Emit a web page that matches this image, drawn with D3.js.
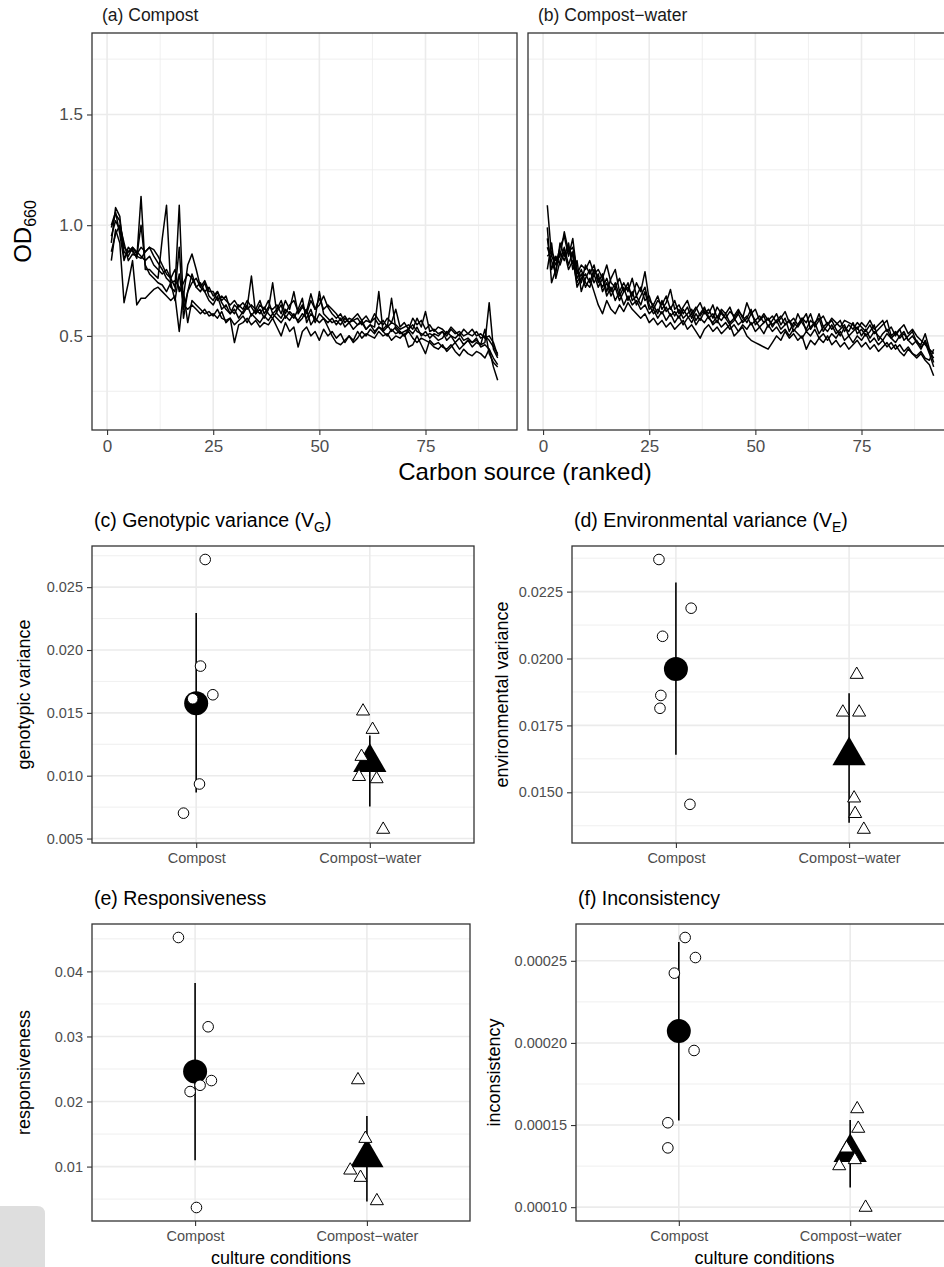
<!DOCTYPE html>
<html>
<head>
<meta charset="utf-8">
<script src="https://cdn.jsdelivr.net/npm/d3@7"></script>
<style>
  body { margin: 0; background: #fff; }
  text { font-family: "Liberation Sans", Arial, Helvetica, sans-serif; }
</style>
</head>
<body>
<div id="chart"></div>
<script>
// ---- data ----
const conditions = ["Compost", "Compost-water"];
const conditionLabels = ["Compost", "Compost\u2212water"];

// OD660 per carbon source (ranked 1..92), one array per genotype
const compostOD = [
  [0.99,1.05,1.02,0.90,0.88,0.89,0.85,1.13,0.80,0.80,0.78,0.76,0.94,1.09,0.72,0.70,0.90,0.58,0.70,0.78,0.72,0.70,0.74,
   0.68,0.66,0.70,0.65,0.62,0.60,0.64,0.62,0.60,0.63,0.77,0.60,0.62,0.58,0.62,0.74,0.60,0.58,0.62,0.60,0.58,0.62,0.67,
   0.56,0.60,0.58,0.70,0.60,0.58,0.56,0.57,0.55,0.58,0.56,0.57,0.55,0.56,0.53,0.55,0.54,0.70,0.52,0.54,0.67,0.53,0.51,
   0.52,0.53,0.55,0.52,0.51,0.50,0.51,0.50,0.48,0.49,0.52,0.50,0.49,0.51,0.48,0.49,0.47,0.48,0.46,0.47,0.65,0.44,0.40],
  [0.92,1.08,1.04,0.85,0.88,0.90,0.87,0.90,0.88,0.90,0.89,0.86,0.82,0.78,0.76,0.72,1.09,0.62,0.70,0.74,0.76,0.72,0.75,
   0.70,0.70,0.66,0.68,0.66,0.64,0.66,0.63,0.65,0.62,0.64,0.62,0.66,0.60,0.63,0.62,0.64,0.60,0.66,0.62,0.70,0.60,0.63,
   0.61,0.69,0.62,0.64,0.68,0.63,0.60,0.58,0.60,0.56,0.58,0.57,0.58,0.55,0.57,0.56,0.58,0.55,0.57,0.54,0.56,0.55,0.53,
   0.54,0.55,0.53,0.58,0.54,0.61,0.52,0.53,0.51,0.52,0.50,0.53,0.51,0.52,0.50,0.51,0.53,0.50,0.51,0.49,0.50,0.47,0.41],
  [0.84,0.98,0.92,0.65,0.74,0.84,0.64,0.67,0.67,0.69,0.71,0.72,0.70,0.68,0.66,0.68,0.52,0.70,0.56,0.66,0.64,0.62,0.60,
   0.61,0.59,0.62,0.58,0.57,0.58,0.47,0.55,0.56,0.58,0.55,0.57,0.54,0.56,0.55,0.58,0.54,0.50,0.56,0.52,0.54,0.45,0.52,
   0.54,0.50,0.52,0.48,0.53,0.50,0.52,0.49,0.51,0.47,0.50,0.48,0.52,0.49,0.51,0.50,0.49,0.52,0.50,0.51,0.48,0.50,0.49,
   0.51,0.45,0.46,0.50,0.46,0.42,0.48,0.46,0.47,0.45,0.44,0.46,0.43,0.41,0.44,0.42,0.41,0.43,0.42,0.40,0.44,0.36,0.30],
  [0.88,0.96,1.00,0.92,0.84,0.87,0.86,0.85,0.88,0.90,0.86,0.83,0.80,0.76,0.74,0.75,0.72,0.68,0.82,0.87,0.80,0.72,0.70,
   0.66,0.64,0.68,0.62,0.64,0.60,0.62,0.58,0.61,0.64,0.59,0.62,0.60,0.63,0.60,0.58,0.61,0.64,0.58,0.61,0.59,0.57,0.60,
   0.58,0.62,0.56,0.60,0.58,0.56,0.58,0.55,0.58,0.54,0.56,0.53,0.55,0.57,0.53,0.55,0.52,0.54,0.53,0.55,0.52,0.54,0.52,
   0.50,0.53,0.51,0.54,0.50,0.52,0.49,0.51,0.50,0.52,0.48,0.50,0.47,0.49,0.46,0.48,0.47,0.49,0.45,0.46,0.44,0.40,0.37],
  [1.00,1.06,0.96,0.84,0.90,0.88,0.86,1.00,0.82,0.78,0.76,0.74,0.73,0.70,0.74,0.66,0.78,0.64,0.62,0.64,0.62,0.60,0.62,
   0.59,0.60,0.58,0.61,0.56,0.58,0.55,0.57,0.59,0.56,0.60,0.58,0.56,0.59,0.57,0.60,0.58,0.56,0.59,0.57,0.60,0.56,0.58,
   0.62,0.55,0.58,0.56,0.58,0.54,0.50,0.47,0.46,0.48,0.50,0.47,0.49,0.52,0.50,0.53,0.51,0.54,0.52,0.50,0.53,0.51,0.52,
   0.50,0.52,0.49,0.47,0.49,0.48,0.47,0.45,0.44,0.46,0.43,0.45,0.47,0.44,0.46,0.48,0.45,0.47,0.46,0.53,0.42,0.38,0.36],
  [0.95,1.02,0.98,0.88,0.86,0.90,0.88,0.86,0.84,0.86,0.82,0.80,0.78,0.80,0.76,0.80,0.70,0.74,0.78,0.76,0.72,0.74,0.70,
   0.72,0.68,0.70,0.66,0.68,0.62,0.60,0.64,0.62,0.66,0.63,0.60,0.64,0.62,0.66,0.60,0.62,0.66,0.60,0.64,0.66,0.61,0.64,
   0.60,0.66,0.62,0.67,0.62,0.64,0.62,0.60,0.57,0.59,0.56,0.58,0.60,0.57,0.59,0.56,0.60,0.57,0.55,0.58,0.56,0.62,0.54,
   0.56,0.53,0.58,0.55,0.57,0.53,0.55,0.52,0.54,0.53,0.51,0.54,0.52,0.50,0.53,0.51,0.50,0.52,0.49,0.50,0.48,0.45,0.42]
];

const waterOD = [
  [1.09,0.86,0.82,0.90,0.95,0.86,0.94,0.78,0.82,0.80,0.84,0.78,0.80,0.76,0.82,0.74,0.72,0.76,0.70,0.72,0.68,0.74,0.70,
   0.79,0.66,0.64,0.68,0.62,0.65,0.71,0.62,0.64,0.60,0.63,0.58,0.62,0.65,0.60,0.62,0.58,0.63,0.60,0.58,0.61,0.59,0.62,
   0.58,0.65,0.60,0.57,0.59,0.56,0.58,0.55,0.57,0.59,0.55,0.57,0.54,0.60,0.56,0.53,0.57,0.55,0.60,0.54,0.56,0.53,0.55,
   0.57,0.52,0.55,0.53,0.56,0.54,0.52,0.55,0.51,0.53,0.55,0.57,0.50,0.52,0.49,0.51,0.48,0.50,0.47,0.46,0.51,0.44,0.38],
  [0.99,0.74,0.80,0.88,0.84,0.90,0.86,0.72,0.76,0.78,0.74,0.80,0.76,0.72,0.76,0.70,0.74,0.68,0.72,0.66,0.70,0.64,0.68,
   0.72,0.64,0.60,0.62,0.60,0.63,0.59,0.61,0.58,0.62,0.59,0.56,0.60,0.57,0.61,0.58,0.56,0.59,0.57,0.60,0.56,0.58,0.55,
   0.57,0.59,0.55,0.57,0.54,0.56,0.58,0.54,0.57,0.53,0.55,0.57,0.52,0.55,0.58,0.52,0.54,0.56,0.51,0.54,0.52,0.55,0.51,
   0.53,0.55,0.50,0.52,0.54,0.50,0.53,0.49,0.52,0.50,0.48,0.51,0.49,0.47,0.50,0.52,0.48,0.46,0.48,0.45,0.47,0.42,0.36],
  [0.94,0.80,0.86,0.82,0.88,0.80,0.84,0.74,0.78,0.72,0.76,0.70,0.64,0.60,0.66,0.62,0.60,0.64,0.61,0.65,0.62,0.60,0.58,
   0.60,0.56,0.58,0.55,0.57,0.54,0.56,0.53,0.55,0.57,0.53,0.55,0.52,0.49,0.53,0.55,0.52,0.54,0.51,0.53,0.55,0.50,0.52,
   0.54,0.50,0.48,0.47,0.46,0.45,0.44,0.47,0.50,0.48,0.52,0.49,0.51,0.48,0.50,0.44,0.48,0.46,0.49,0.47,0.50,0.46,0.48,
   0.45,0.47,0.44,0.46,0.48,0.45,0.47,0.44,0.46,0.43,0.45,0.47,0.44,0.46,0.43,0.41,0.44,0.42,0.40,0.42,0.39,0.37,0.32],
  [0.90,0.84,0.78,0.92,0.86,0.92,0.80,0.84,0.70,0.76,0.80,0.74,0.78,0.70,0.74,0.68,0.72,0.66,0.70,0.74,0.66,0.68,0.64,
   0.70,0.62,0.64,0.60,0.66,0.61,0.63,0.59,0.62,0.58,0.60,0.62,0.57,0.60,0.63,0.58,0.60,0.56,0.61,0.58,0.55,0.57,0.60,
   0.56,0.58,0.62,0.55,0.57,0.59,0.54,0.57,0.60,0.55,0.58,0.52,0.56,0.54,0.57,0.60,0.53,0.56,0.58,0.52,0.55,0.57,0.53,
   0.50,0.54,0.52,0.56,0.51,0.53,0.50,0.52,0.55,0.48,0.51,0.53,0.49,0.51,0.53,0.48,0.50,0.52,0.47,0.44,0.48,0.43,0.40],
  [0.86,0.88,0.84,0.86,0.97,0.88,0.90,0.80,0.74,0.82,0.78,0.82,0.74,0.78,0.70,0.76,0.80,0.70,0.74,0.70,0.76,0.68,0.72,
   0.66,0.68,0.62,0.66,0.64,0.68,0.62,0.66,0.60,0.63,0.66,0.60,0.63,0.59,0.62,0.60,0.64,0.58,0.62,0.60,0.63,0.58,0.61,
   0.59,0.56,0.60,0.62,0.57,0.60,0.57,0.59,0.56,0.58,0.61,0.56,0.58,0.55,0.58,0.56,0.60,0.54,0.57,0.59,0.55,0.58,0.56,
   0.54,0.57,0.56,0.55,0.53,0.56,0.54,0.57,0.53,0.55,0.57,0.52,0.54,0.50,0.53,0.55,0.51,0.53,0.50,0.48,0.46,0.44,0.42],
  [0.80,0.92,0.76,0.84,0.90,0.82,0.88,0.76,0.80,0.74,0.72,0.78,0.72,0.76,0.68,0.72,0.66,0.70,0.64,0.68,0.64,0.66,0.62,
   0.64,0.60,0.62,0.58,0.61,0.57,0.60,0.56,0.59,0.55,0.58,0.60,0.55,0.58,0.56,0.59,0.55,0.57,0.54,0.56,0.53,0.55,0.52,
   0.55,0.53,0.56,0.52,0.54,0.51,0.55,0.52,0.54,0.51,0.53,0.50,0.53,0.51,0.49,0.52,0.50,0.53,0.49,0.51,0.48,0.51,0.49,
   0.52,0.48,0.50,0.47,0.50,0.48,0.51,0.47,0.49,0.46,0.48,0.45,0.47,0.44,0.46,0.43,0.45,0.42,0.41,0.43,0.40,0.39,0.44]
];
const odTicks = [0.5, 1.0, 1.5];
const odDomain = [0.075, 1.868];
const rankTicks = [0, 25, 50, 75];
const rankDomain = [-3.55, 96.55];

// genotype estimates (open symbols), with horizontal jitter in category units
const vgCompost = [0.0272, 0.01872, 0.01644, 0.01612, 0.00934, 0.00702];
const vgCompostJitter = [0.052, 0.025, 0.096, -0.020, 0.019, -0.073];
const vgWater = [0.01513, 0.01367, 0.01152, 0.00992, 0.00974, 0.00572];
const vgWaterJitter = [-0.039, 0.016, -0.048, -0.062, 0.039, 0.077];
const vgMean = [0.01577, 0.01106];
const vgLow = [0.00867, 0.00755];
const vgHigh = [0.02295, 0.01319];
const vgTicks = [0.005, 0.010, 0.015, 0.020, 0.025];

const veCompost = [0.0237, 0.02188, 0.02083, 0.01862, 0.01814, 0.01455];
const veCompostJitter = [-0.098, 0.088, -0.077, -0.087, -0.092, 0.081];
const veWater = [0.0194, 0.01799, 0.01799, 0.01478, 0.0142, 0.01361];
const veWaterJitter = [0.044, -0.036, 0.058, 0.029, 0.035, 0.085];
const veMean = [0.01961, 0.01637];
const veLow = [0.0164, 0.01386];
const veHigh = [0.02284, 0.0187];
const veTicks = [0.0150, 0.0175, 0.0200, 0.0225];

const respCompost = [0.04521, 0.03149, 0.02322, 0.0225, 0.02153, 0.00371];
const respCompostJitter = [-0.097, 0.076, 0.095, 0.029, -0.029, 0.008];
const respWater = [0.02331, 0.0143, 0.00943, 0.00831, 0.00472];
const respWaterJitter = [-0.052, -0.009, -0.097, -0.037, 0.058];
const respMean = [0.0246, 0.01138];
const respLow = [0.01097, 0.00463];
const respHigh = [0.03822, 0.01779];
const respTicks = [0.01, 0.02, 0.03, 0.04];

const incCompost = [0.0002642, 0.000252, 0.0002425, 0.0001954, 0.0001514, 0.0001361];
const incCompostJitter = [0.037, 0.097, -0.026, 0.089, -0.064, -0.064];
const incWater = [0.0001598, 0.0001479, 0.0001359, 0.0001288, 0.0001251, 0.0000998];
const incWaterJitter = [0.041, 0.047, -0.021, 0.027, -0.064, 0.090];
const incMean = [0.0002072, 0.0001333];
const incLow = [0.0001528, 0.000112];
const incHigh = [0.0002614, 0.0001531];
const incTicks = [0.00010, 0.00015, 0.00020, 0.00025];

// ---- drawing ----
const W = 944, H = 1267;
const gridCol = "#ebebeb", borderCol = "#333333", tickCol = "#4d4d4d";

const svg = d3.select("#chart").append("svg")
  .attr("width", W).attr("height", H)
  .style("display", "block");

function minorBreaks(ticks, domain) {
  const step = ticks[1] - ticks[0];
  const all = [ticks[0] - step, ...ticks, ticks[ticks.length - 1] + step];
  const out = [];
  for (let i = 0; i < all.length - 1; i++) out.push((all[i] + all[i + 1]) / 2);
  return out.filter(v => v > domain[0] && v < domain[1]);
}

function styleAxis(ax, size) {
  ax.select(".domain").remove();
  ax.selectAll(".tick line").attr("stroke", borderCol).attr("stroke-width", 1.1);
  ax.selectAll(".tick text").attr("fill", tickCol).style("font-size", size + "px")
    .style("font-family", '"Liberation Sans", Arial, sans-serif');
}

function linePanel(box, series, title, showY) {
  const x = d3.scaleLinear().domain(rankDomain).range([box.x, box.x + box.w]);
  const y = d3.scaleLinear().domain(odDomain).range([box.y + box.h, box.y]);
  const g = svg.append("g");

  minorBreaks(odTicks, odDomain).forEach(v => g.append("line")
    .attr("x1", box.x).attr("x2", box.x + box.w).attr("y1", y(v)).attr("y2", y(v))
    .attr("stroke", gridCol).attr("stroke-width", 0.8));
  minorBreaks(rankTicks, rankDomain).forEach(v => g.append("line")
    .attr("y1", box.y).attr("y2", box.y + box.h).attr("x1", x(v)).attr("x2", x(v))
    .attr("stroke", gridCol).attr("stroke-width", 0.8));
  odTicks.forEach(v => g.append("line")
    .attr("x1", box.x).attr("x2", box.x + box.w).attr("y1", y(v)).attr("y2", y(v))
    .attr("stroke", gridCol).attr("stroke-width", 1.6));
  rankTicks.forEach(v => g.append("line")
    .attr("y1", box.y).attr("y2", box.y + box.h).attr("x1", x(v)).attr("x2", x(v))
    .attr("stroke", gridCol).attr("stroke-width", 1.6));

  const line = d3.line().x((d, i) => x(i + 1)).y(d => y(d));
  g.selectAll("path.od").data(series).join("path")
    .attr("class", "od")
    .attr("d", line)
    .attr("fill", "none").attr("stroke", "#000").attr("stroke-width", 1.5)
    .attr("stroke-linejoin", "round");

  g.append("rect").attr("x", box.x).attr("y", box.y).attr("width", box.w).attr("height", box.h)
    .attr("fill", "none").attr("stroke", borderCol).attr("stroke-width", 1.3);

  const ax = g.append("g").attr("transform", `translate(0,${box.y + box.h})`)
    .call(d3.axisBottom(x).tickValues(rankTicks).tickSize(5).tickPadding(5));
  styleAxis(ax, 17);

  if (showY) {
    const ay = g.append("g").attr("transform", `translate(${box.x},0)`)
      .call(d3.axisLeft(y).tickValues(odTicks).tickFormat(d3.format(".1f")).tickSize(5).tickPadding(4));
    styleAxis(ay, 17);
  }

  g.append("text").attr("x", box.x + 10).attr("y", box.y - 12)
    .style("font-size", "17.5px").attr("fill", "#1a1a1a").text(title);
}

function pointPanel(box, p) {
  const all = [...p.compost, ...p.water, ...p.low, ...p.high];
  const ext = d3.extent(all);
  const pad = (ext[1] - ext[0]) * 0.05;
  const dom = [ext[0] - pad, ext[1] + pad];
  const y = d3.scaleLinear().domain(dom).range([box.y + box.h, box.y]);
  const x = d3.scalePoint().domain(conditions).range([box.x, box.x + box.w]).padding(0.6);
  const step = x.step();
  const g = svg.append("g");

  minorBreaks(p.ticks, dom).forEach(v => g.append("line")
    .attr("x1", box.x).attr("x2", box.x + box.w).attr("y1", y(v)).attr("y2", y(v))
    .attr("stroke", gridCol).attr("stroke-width", 0.8));
  p.ticks.forEach(v => g.append("line")
    .attr("x1", box.x).attr("x2", box.x + box.w).attr("y1", y(v)).attr("y2", y(v))
    .attr("stroke", gridCol).attr("stroke-width", 1.6));
  conditions.forEach(c => g.append("line")
    .attr("y1", box.y).attr("y2", box.y + box.h).attr("x1", x(c)).attr("x2", x(c))
    .attr("stroke", gridCol).attr("stroke-width", 1.6));

  // interval bars
  g.selectAll("line.ci").data(conditions).join("line").attr("class", "ci")
    .attr("x1", c => x(c)).attr("x2", c => x(c))
    .attr("y1", (c, i) => y(p.low[i])).attr("y2", (c, i) => y(p.high[i]))
    .attr("stroke", "#000").attr("stroke-width", 1.6);

  const circleBig = d3.symbol().type(d3.symbolCircle).size(Math.PI * 12 * 12)();
  const triBig = d3.symbol().type(d3.symbolTriangle).size(480)();
  const circleSmall = d3.symbol().type(d3.symbolCircle).size(Math.PI * 5.3 * 5.3)();
  const triSmall = d3.symbol().type(d3.symbolTriangle).size(74)();

  g.selectAll("path.mean").data(conditions).join("path").attr("class", "mean")
    .attr("transform", (c, i) => `translate(${x(c)},${y(p.mean[i])})`)
    .attr("d", (c, i) => i === 0 ? circleBig : triBig)
    .attr("fill", "#000");

  g.selectAll("path.gc").data(p.compost).join("path").attr("class", "gc")
    .attr("transform", (d, i) => `translate(${x(conditions[0]) + p.compostJitter[i] * step},${y(d)})`)
    .attr("d", circleSmall).attr("fill", "#fff").attr("stroke", "#000").attr("stroke-width", 1);
  g.selectAll("path.gw").data(p.water).join("path").attr("class", "gw")
    .attr("transform", (d, i) => `translate(${x(conditions[1]) + p.waterJitter[i] * step},${y(d)})`)
    .attr("d", triSmall).attr("fill", "#fff").attr("stroke", "#000").attr("stroke-width", 1);

  g.append("rect").attr("x", box.x).attr("y", box.y).attr("width", box.w).attr("height", box.h)
    .attr("fill", "none").attr("stroke", borderCol).attr("stroke-width", 1.3);

  const ay = g.append("g").attr("transform", `translate(${box.x},0)`)
    .call(d3.axisLeft(y).tickValues(p.ticks).tickFormat(d3.format(p.fmt)).tickSize(5).tickPadding(4));
  styleAxis(ay, 14.5);
  const ax = g.append("g").attr("transform", `translate(0,${box.y + box.h})`)
    .call(d3.axisBottom(x).tickFormat((c, i) => conditionLabels[i]).tickSize(5).tickPadding(5));
  styleAxis(ax, 14.5);

  g.append("text")
    .attr("transform", `translate(${p.ylabX},${box.y + box.h / 2}) rotate(-90)`)
    .attr("text-anchor", "middle").style("font-size", "18px").text(p.ylab);

  const t = g.append("text").attr("x", box.x + 2).attr("y", box.y - 19).style("font-size", "19.5px");
  t.append("tspan").text(p.title);
  if (p.sub) {
    t.append("tspan").text("V");
    t.append("tspan").attr("dy", 5).style("font-size", "14px").text(p.sub);
    t.append("tspan").attr("dy", -5).text(")");
  }
  if (p.xlab) {
    g.append("text").attr("x", box.x + box.w / 2).attr("y", box.y + box.h + 43)
      .attr("text-anchor", "middle").style("font-size", "18px").text(p.xlab);
  }
}

// top facets
linePanel({ x: 92, y: 33, w: 425, h: 397 }, compostOD, "(a) Compost", true);
linePanel({ x: 528, y: 33, w: 425, h: 397 }, waterOD, "(b) Compost\u2212water", false);

// OD660 title and shared x title
const od = svg.append("text")
  .attr("transform", `translate(31,${33 + 397 / 2}) rotate(-90)`)
  .attr("text-anchor", "middle");
od.append("tspan").style("font-size", "24px").text("OD");
od.append("tspan").attr("dy", 5).style("font-size", "16px").text("660");

svg.append("text").attr("x", 525).attr("y", 480).attr("text-anchor", "middle")
  .style("font-size", "24px").text("Carbon source (ranked)");

pointPanel({ x: 92, y: 546, w: 382, h: 297 }, {
  compost: vgCompost, compostJitter: vgCompostJitter, water: vgWater, waterJitter: vgWaterJitter,
  mean: vgMean, low: vgLow, high: vgHigh, ticks: vgTicks, fmt: ".3f",
  ylab: "genotypic variance", ylabX: 30, title: "(c) Genotypic variance (", sub: "G"
});
pointPanel({ x: 572, y: 546, w: 381, h: 297 }, {
  compost: veCompost, compostJitter: veCompostJitter, water: veWater, waterJitter: veWaterJitter,
  mean: veMean, low: veLow, high: veHigh, ticks: veTicks, fmt: ".4f",
  ylab: "environmental variance", ylabX: 508, title: "(d) Environmental variance (", sub: "E"
});
pointPanel({ x: 92, y: 924, w: 378, h: 297 }, {
  compost: respCompost, compostJitter: respCompostJitter, water: respWater, waterJitter: respWaterJitter,
  mean: respMean, low: respLow, high: respHigh, ticks: respTicks, fmt: ".2f",
  ylab: "responsiveness", ylabX: 30, title: "(e) Responsiveness", xlab: "culture conditions"
});
pointPanel({ x: 576, y: 924, w: 377, h: 297 }, {
  compost: incCompost, compostJitter: incCompostJitter, water: incWater, waterJitter: incWaterJitter,
  mean: incMean, low: incLow, high: incHigh, ticks: incTicks, fmt: ".5f",
  ylab: "inconsistency", ylabX: 500, title: "(f) Inconsistency", xlab: "culture conditions"
});

// light grey tab in the lower-left corner of the scan
svg.append("path")
  .attr("d", "M0,1206 H37 Q45,1206 45,1214 V1267 H0 Z")
  .attr("fill", "#dedede");
</script>
</body>
</html>
